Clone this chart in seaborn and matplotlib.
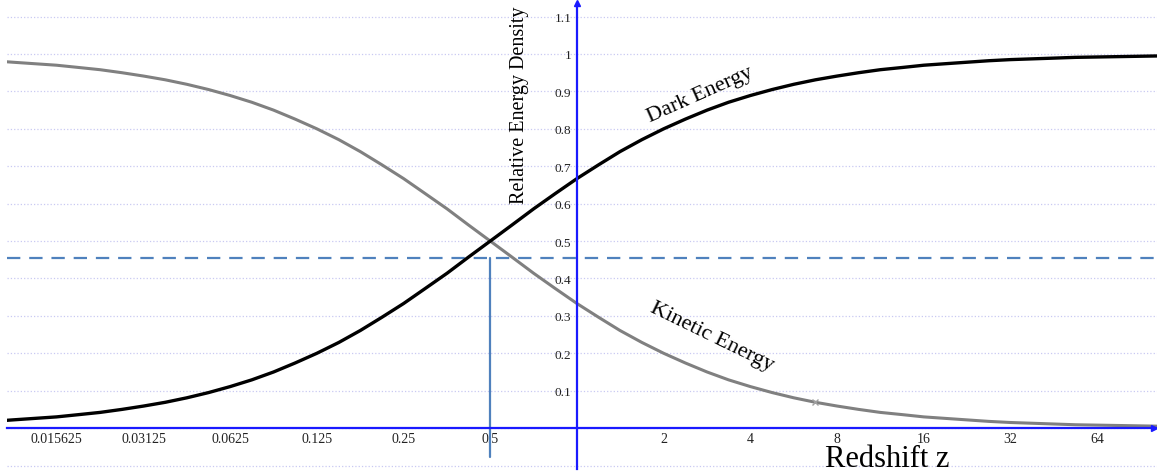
import numpy as np
import pandas as pd
import seaborn as sns
import matplotlib.pyplot as plt

# redshift values (quarter-octave steps) and curve readings
redshift = [0.0078, 0.0093, 0.011, 0.0131, 0.0156, 0.0186, 0.0221, 0.0263, 0.0313,
            0.0372, 0.0442, 0.0526, 0.0625, 0.0743, 0.0884, 0.105, 0.125, 0.149,
            0.177, 0.21, 0.25, 0.297, 0.354, 0.42, 0.5, 0.595, 0.707, 0.841, 1.0,
            1.19, 1.41, 1.68, 2.0, 2.38, 2.83, 3.36, 4.0, 4.76, 5.66, 6.73, 8.0,
            9.51, 11.3, 13.5, 16.0, 19.0, 22.6, 26.9, 32.0, 38.1, 45.3, 53.8, 64.0,
            76.1, 90.5, 108.0, 128.0]
dark_energy = [0.015, 0.018, 0.022, 0.026, 0.030, 0.036, 0.042, 0.050, 0.059, 0.069,
               0.081, 0.095, 0.111, 0.129, 0.150, 0.174, 0.200, 0.229, 0.261, 0.296,
               0.333, 0.373, 0.414, 0.457, 0.500, 0.543, 0.586, 0.627, 0.667, 0.704,
               0.739, 0.771, 0.800, 0.826, 0.850, 0.871, 0.889, 0.905, 0.919, 0.931,
               0.941, 0.950, 0.958, 0.964, 0.970, 0.974, 0.978, 0.982, 0.985, 0.987,
               0.989, 0.991, 0.992, 0.993, 0.994, 0.995, 0.996]
kinetic_energy = [0.985, 0.982, 0.978, 0.974, 0.970, 0.964, 0.958, 0.950, 0.941, 0.931,
                  0.919, 0.905, 0.889, 0.871, 0.850, 0.826, 0.800, 0.771, 0.739, 0.704,
                  0.667, 0.627, 0.586, 0.543, 0.500, 0.457, 0.414, 0.373, 0.333, 0.296,
                  0.261, 0.229, 0.200, 0.174, 0.150, 0.129, 0.111, 0.095, 0.081, 0.069,
                  0.059, 0.050, 0.042, 0.036, 0.030, 0.026, 0.022, 0.018, 0.015, 0.013,
                  0.011, 0.009, 0.008, 0.007, 0.006, 0.005, 0.004]

x_ticks = [0.015625, 0.03125, 0.0625, 0.125, 0.25, 0.5, 1, 2, 4, 8, 16, 32, 64]
x_ticklabels = ['0.015625', '0.03125', '0.0625', '0.125', '0.25', '0.5', '',
                '2', '4', '8', '16', '32', '64']
y_ticks = [-0.1, 0, 0.1, 0.2, 0.3, 0.4, 0.5, 0.6, 0.7, 0.8, 0.9, 1.0, 1.1]
y_ticklabels = ['', '', '0.1', '0.2', '0.3', '0.4', '0.5', '0.6', '0.7', '0.8',
                '0.9', '1', '1.1']

threshold = 0.455      # dashed level
marker_z, marker_y = 6.7, 0.07

df = pd.DataFrame({'z': redshift, 'dark': dark_energy, 'kinetic': kinetic_energy})

sns.set_style('white')
plt.rcParams['font.family'] = ['Liberation Serif', 'DejaVu Serif']

axis_blue = '#1a1aff'
line_blue = '#4f81bd'

fig = plt.figure(figsize=(11.57, 4.77), dpi=100)
ax = fig.add_axes([7 / 1157, 0, 1150 / 1157, 1])
ax.set_xscale('log', base=2)
ax.set_xlim(2 ** -6.574, 2 ** 6.69)
ax.set_ylim(-0.128, 1.147)

for y in y_ticks:
    ax.axhline(y, color='#c9c9f2', lw=0.9, ls=':', zorder=0)

sns.lineplot(data=df, x='z', y='kinetic', color='#808080', lw=2.2, ax=ax, zorder=3)
sns.lineplot(data=df, x='z', y='dark', color='black', lw=2.4, ax=ax, zorder=4)
ax.plot([marker_z], [marker_y], marker='x', color='#a0a0a0', ms=5, mew=1, zorder=5)

ax.axhline(threshold, color=line_blue, lw=1.6, ls=(0, (6, 4)), zorder=2)
ax.plot([0.5, 0.5], [threshold, -0.078], color=line_blue, lw=1.6, zorder=2)

# axes through the origin (z = 1, y = 0)
for s in ['top', 'right']:
    ax.spines[s].set_visible(False)
ax.spines['left'].set_position(('data', 1))
ax.spines['bottom'].set_position(('data', 0))
ax.spines['left'].set_bounds(-0.11, 1.135)
for s in ['left', 'bottom']:
    ax.spines[s].set_color(axis_blue)
    ax.spines[s].set_linewidth(1.6)
    ax.spines[s].set_zorder(6)
ax.plot([1], [1.135], marker='^', color=axis_blue, ms=5, clip_on=False, zorder=7)
ax.plot([2 ** 6.66], [0], marker='>', color=axis_blue, ms=5, clip_on=False, zorder=7)

ax.set_xticks(x_ticks)
ax.set_xticklabels(x_ticklabels)
ax.minorticks_off()
ax.set_yticks(y_ticks)
ax.set_yticklabels(y_ticklabels)
ax.tick_params(axis='both', direction='inout', length=6, width=1.2, color=axis_blue,
               labelcolor='#222222')
ax.tick_params(axis='x', pad=0, labelsize=10)
ax.tick_params(axis='y', pad=1, labelsize=9.5)
ax.set_xlabel('')
ax.set_ylabel('')

ax.text(0.634, 0.866, 'Relative Energy Density', rotation=90, fontsize=14.5,
        ha='center', va='center', color='black')
ax.text(7.26, -0.1, 'Redshift z', fontsize=22, ha='left', va='baseline',
        color='black')
ax.text(2.67, 0.893, 'Dark Energy', rotation=24, fontsize=16, color='black',
        ha='center', va='center', rotation_mode='anchor')
ax.text(2.94, 0.246, 'Kinetic Energy', rotation=-26, fontsize=16, color='black',
        ha='center', va='center', rotation_mode='anchor')

fig.savefig('out.png', dpi=100)
